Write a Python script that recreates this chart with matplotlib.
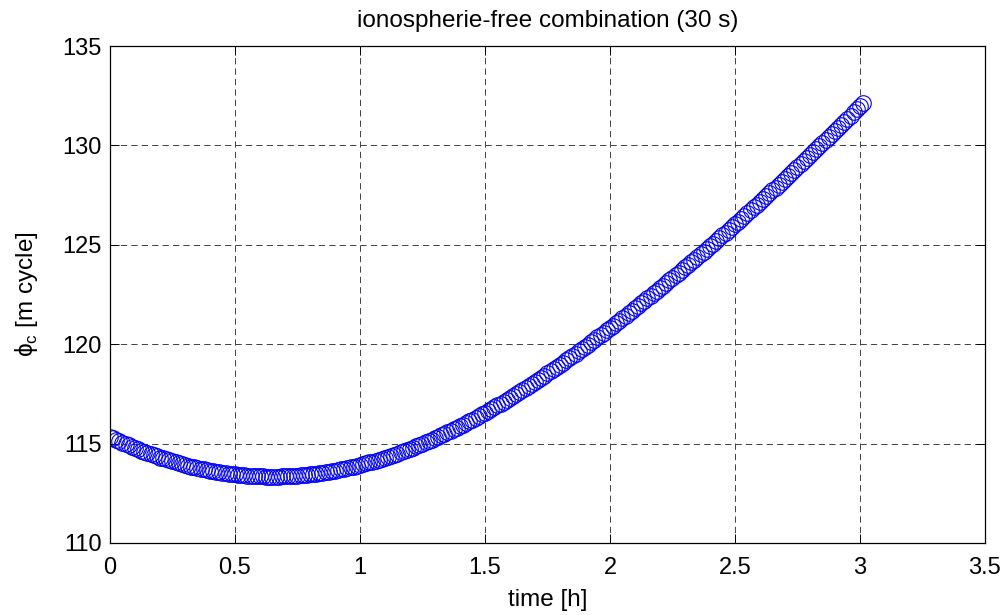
import numpy as np
import matplotlib
matplotlib.use('Agg')
import matplotlib.pyplot as plt

# ionosphere-free phase combination
# one value every 0.0125 h (45 s), from 0 to ~3.01 h
step_h = 0.0125
phi_c = [
    115.35, 115.27, 115.20, 115.12, 115.05, 114.98, 114.91, 114.84, 114.78, 114.71,
    114.65, 114.59, 114.53, 114.47, 114.41, 114.36, 114.30, 114.25, 114.20, 114.15,
    114.10, 114.05, 114.01, 113.96, 113.92, 113.88, 113.84, 113.80, 113.77, 113.73,
    113.70, 113.67, 113.64, 113.61, 113.58, 113.55, 113.53, 113.51, 113.49, 113.47,
    113.45, 113.43, 113.41, 113.40, 113.39, 113.38, 113.37, 113.36, 113.35, 113.35,
    113.34, 113.34, 113.34, 113.34, 113.34, 113.35, 113.35, 113.36, 113.37, 113.38,
    113.39, 113.40, 113.41, 113.43, 113.45, 113.47, 113.49, 113.51, 113.53, 113.55,
    113.58, 113.61, 113.64, 113.67, 113.70, 113.73, 113.77, 113.80, 113.84, 113.88,
    113.92, 113.96, 114.00, 114.05, 114.09, 114.14, 114.19, 114.23, 114.29, 114.34,
    114.39, 114.44, 114.50, 114.56, 114.62, 114.68, 114.74, 114.80, 114.86, 114.93,
    114.99, 115.06, 115.13, 115.20, 115.27, 115.34, 115.41, 115.49, 115.56, 115.64,
    115.72, 115.80, 115.88, 115.96, 116.04, 116.13, 116.21, 116.30, 116.38, 116.47,
    116.56, 116.65, 116.74, 116.83, 116.92, 117.01, 117.11, 117.20, 117.30, 117.40,
    117.50, 117.60, 117.70, 117.80, 117.90, 118.00, 118.11, 118.21, 118.31, 118.42,
    118.53, 118.63, 118.74, 118.85, 118.96, 119.07, 119.19, 119.30, 119.41, 119.52,
    119.64, 119.75, 119.87, 119.98, 120.10, 120.22, 120.34, 120.46, 120.58, 120.70,
    120.82, 120.94, 121.06, 121.18, 121.31, 121.43, 121.56, 121.68, 121.80, 121.93,
    122.06, 122.18, 122.31, 122.43, 122.56, 122.69, 122.82, 122.95, 123.08, 123.21,
    123.34, 123.47, 123.60, 123.73, 123.86, 123.99, 124.13, 124.26, 124.39, 124.52,
    124.66, 124.79, 124.93, 125.06, 125.20, 125.34, 125.48, 125.61, 125.75, 125.89,
    126.03, 126.17, 126.31, 126.45, 126.59, 126.73, 126.88, 127.02, 127.16, 127.30,
    127.45, 127.59, 127.74, 127.88, 128.03, 128.17, 128.32, 128.46, 128.61, 128.76,
    128.91, 129.06, 129.21, 129.36, 129.51, 129.66, 129.81, 129.96, 130.11, 130.26,
    130.42, 130.57, 130.72, 130.87, 131.03, 131.18, 131.34, 131.50, 131.66, 131.81,
    131.97, 132.13,
]
time_h = np.arange(len(phi_c)) * step_h

x_ticks = [0, 0.5, 1, 1.5, 2, 2.5, 3, 3.5]
x_tick_labels = ['0', '0.5', '1', '1.5', '2', '2.5', '3', '3.5']
y_ticks = [110, 115, 120, 125, 130, 135]

plt.rcParams['font.family'] = ['Liberation Sans', 'DejaVu Sans']
plt.rcParams['mathtext.fontset'] = 'custom'
plt.rcParams['mathtext.rm'] = 'Liberation Sans'
plt.rcParams['lines.scale_dashes'] = False

fig = plt.figure(figsize=(10.07, 6.15), dpi=100)
ax = fig.add_axes([0.1092, 0.1171, 0.8689, 0.8081])

ax.plot(time_h, phi_c, linestyle='none', marker='o', markersize=11.2,
        markerfacecolor='none', markeredgecolor='#0000ff', markeredgewidth=0.8)

ax.set_xlim(0, 3.5)
ax.set_ylim(110, 135)
ax.set_xticks(x_ticks)
ax.set_xticklabels(x_tick_labels)
ax.set_yticks(y_ticks)

ax.grid(True, color='#404040', linewidth=0.7, linestyle=(0, (4.5, 3.0)))
ax.set_axisbelow(True)
ax.tick_params(direction='in', length=6.3, width=0.7, labelsize=17,
               top=True, right=True)
ax.tick_params(axis='x', pad=10)
ax.tick_params(axis='y', pad=6)
for s in ax.spines.values():
    s.set_linewidth(0.9)

ax.set_title('ionospherie-free combination (30 s)', fontsize=17.5, pad=14)
ax.set_xlabel('time [h]', fontsize=17.5, labelpad=7)
ax.set_ylabel('\u03d5$_{\\mathrm{c}}$ [m cycle]', fontsize=17.5, labelpad=16)

fig.savefig('out.png', dpi=100)
